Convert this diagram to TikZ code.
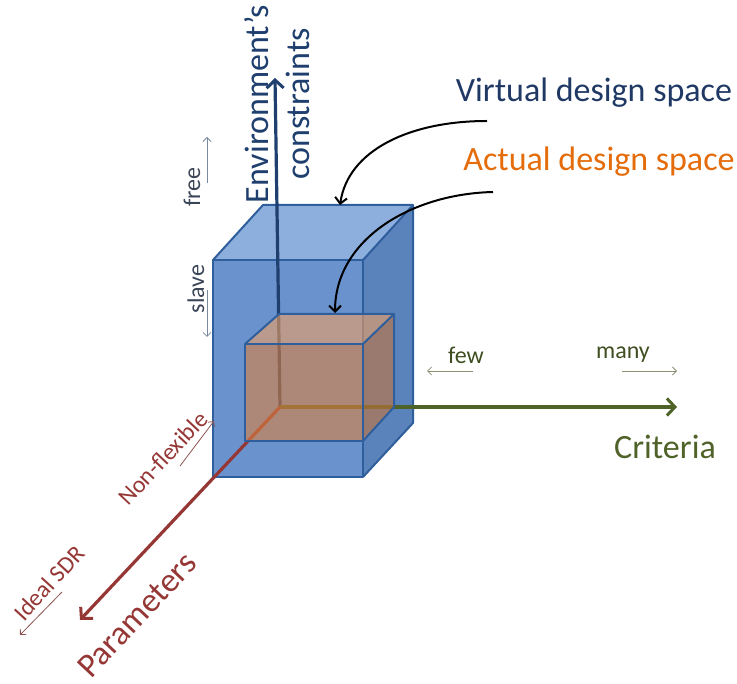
\documentclass[tikz,border=0pt]{standalone}
\usepackage{fontspec}
\setmainfont{Carlito}
\usetikzlibrary{arrows.meta}
\definecolor{navy}{HTML}{1F3F6E}
\definecolor{vtext}{HTML}{1F3864}
\definecolor{atext}{HTML}{E46C0A}
\definecolor{grn}{HTML}{4F6228}
\definecolor{dred}{HTML}{953735}
\definecolor{bfront}{HTML}{6A93CE}
\definecolor{btop}{HTML}{8DAFDD}
\definecolor{bright}{HTML}{5A83BC}
\definecolor{bedge}{HTML}{2F5E9C}
\definecolor{sorange}{HTML}{DB813F}
\definecolor{stop}{HTML}{F0A060}
\definecolor{sright}{HTML}{C5743A}
\definecolor{thinb}{HTML}{7A8A9E}
\definecolor{thing}{HTML}{8A9272}
\definecolor{slate}{HTML}{3A4558}
\tikzset{
  big/.style={font=\fontsize{34}{41}\selectfont},
  small/.style={font=\fontsize{24}{28}\selectfont},
  axis/.style={line width=3.2pt,-{Straight Barb[length=8pt,width=17pt,line width=3pt]}},
  thin/.style={line width=0.8pt,-{Straight Barb[length=4pt,width=8pt,line width=0.8pt]}},
  callout/.style={line width=2pt,black,-{Straight Barb[length=6pt,width=12pt,line width=2pt]}},
  edge/.style={draw=bedge,line width=2pt,line join=round}
}
\begin{document}
\begin{tikzpicture}[x=1pt,y=-1pt]
\useasboundingbox (0,0) rectangle (737,684);
% big box
\fill[bfront] (213,260) rectangle (363,477);
\fill[btop] (213,260) -- (263,205) -- (413,205) -- (363,260) -- cycle;
\fill[bright] (363,260) -- (413,205) -- (413,423) -- (363,477) -- cycle;
\draw[edge] (213,260) rectangle (363,477);
\draw[edge] (213,260) -- (263,205) -- (413,205) -- (363,260);
\draw[edge] (413,205) -- (413,423) -- (363,477);
% axes
\coordinate (O) at (280,407);
\coordinate (Vtip) at (275,78);
\coordinate (Ctip) at (677,407);
\coordinate (Ptip) at (80,620);
\draw[axis,navy] (O) -- (Vtip);
\draw[axis,grn] (O) -- (Ctip);
\draw[axis,dred] (O) -- (Ptip);
% small box
\fill[sorange,fill opacity=0.6] (245,344) rectangle (363,441);
\fill[stop,fill opacity=0.6] (245,344) -- (279,314) -- (394,314) -- (363,344) -- cycle;
\fill[sright,fill opacity=0.6] (363,344) -- (394,314) -- (394,407) -- (363,441) -- cycle;
\draw[edge] (245,344) rectangle (363,441);
\draw[edge] (245,344) -- (279,314) -- (394,314) -- (363,344);
\draw[edge] (394,314) -- (394,407) -- (363,441);
\coordinate (Btop) at (340,205);
\coordinate (Stop) at (335,313);
% labels
\node[big,navy,rotate=90,align=center] (env) at (277,104) {Environment's\\constraints};
\node[big,vtext] (virt) at (594,93) {Virtual design space};
\node[big,atext] (act) at (599,162) {Actual design space};
\node[big,grn] (crit) at (665,447) {Criteria};
\node[big,dred,rotate=46.8] (par) at (137,615) {Parameters};
\node[small,slate,rotate=90] (free) at (192,187) {free};
\node[small,slate,rotate=90] (slave) at (196,289) {slave};
\node[small,grn!80!black] (few) at (466,355) {few};
\node[small,grn!80!black] (many) at (623,355) {many};
\node[small,dred,rotate=46.8] (nonflex) at (163,458) {Non-flexible};
\node[small,dred,rotate=47.5] (ideal) at (49,583) {Ideal SDR};
% callouts
\coordinate (vs) at (487,121);
\coordinate (as) at (493,192);
\draw[callout] (vs) .. controls (410,121) and (348,150) .. (Btop);
\draw[callout] (as) .. controls (410,194) and (335,240) .. (Stop);
% thin arrows
\coordinate (f1) at (207,183); \coordinate (f2) at (207,137);
\coordinate (s1) at (207,290); \coordinate (s2) at (207,337);
\coordinate (w1) at (473,371); \coordinate (w2) at (427,371);
\coordinate (m1) at (622,371); \coordinate (m2) at (677,371);
\coordinate (n1) at (180,466); \coordinate (n2) at (214,421);
\coordinate (i1) at (62,592); \coordinate (i2) at (20,635);
\draw[thin,thinb] (f1) -- (f2);
\draw[thin,thinb] (s1) -- (s2);
\draw[thin,thing] (w1) -- (w2);
\draw[thin,thing] (m1) -- (m2);
\draw[thin,dred!60!gray] (n1) -- (n2);
\draw[thin,dred!60!gray] (i1) -- (i2);
\end{tikzpicture}
\end{document}
